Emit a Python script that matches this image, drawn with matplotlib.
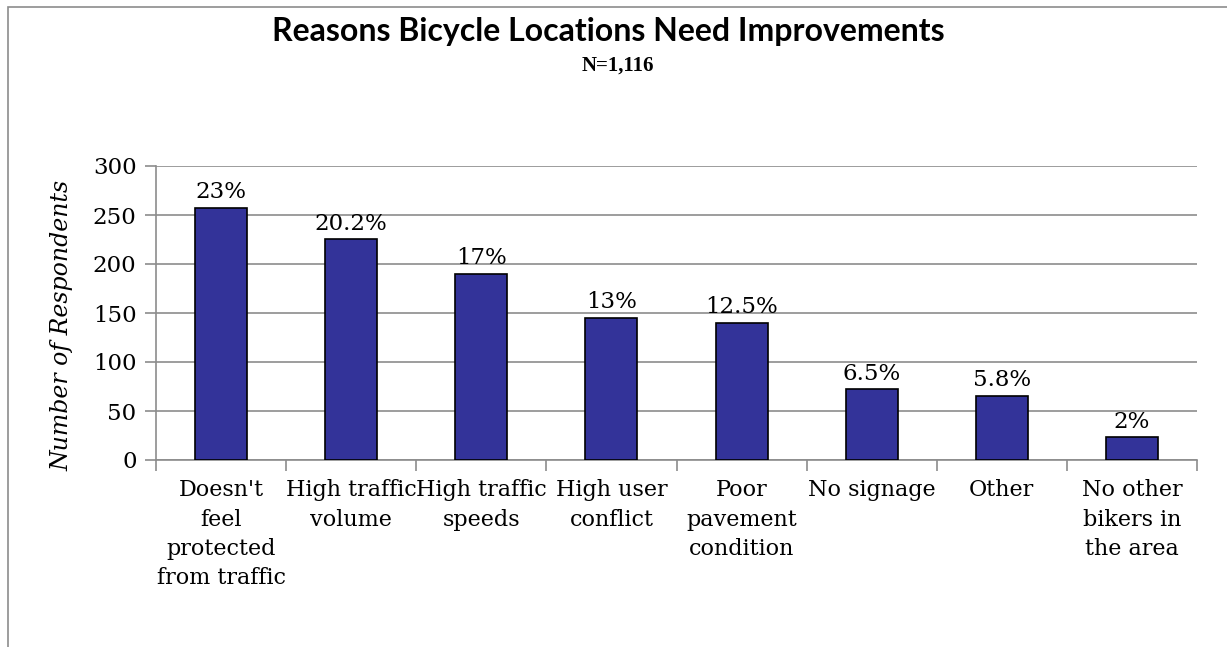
import matplotlib.pyplot as plt
from matplotlib.patches import Rectangle

categories = ["Doesn't\nfeel\nprotected\nfrom traffic", "High traffic\nvolume",
              "High traffic\nspeeds", "High user\nconflict", "Poor\npavement\ncondition",
              "No signage", "Other", "No other\nbikers in\nthe area"]
counts = [257, 225, 190, 145, 140, 72, 65, 23]
pct_labels = ["23%", "20.2%", "17%", "13%", "12.5%", "6.5%", "5.8%", "2%"]
yticks = [0, 50, 100, 150, 200, 250, 300]

serif = 'DejaVu Serif'
fig = plt.figure(figsize=(12.27, 6.47), dpi=100)
ax = fig.add_axes([156 / 1227, 1 - 460 / 647, (1197 - 156) / 1227, (460 - 166) / 647])

# chart border (only left/top visible in the original)
fig.patches.append(Rectangle((8 / 1227, -0.1), 1.2, 1 - 7 / 647 + 0.1, transform=fig.transFigure,
                             fill=False, edgecolor='#8c8c8c', linewidth=1.2))

x = list(range(len(categories)))
ax.bar(x, counts, width=0.4, color='#333399', edgecolor='black', linewidth=1.2, zorder=3)

for xi, c, lab in zip(x, counts, pct_labels):
    ax.text(xi, c + 5, lab, ha='center', va='bottom', fontsize=16.5, family=serif)

ax.set_xlim(-0.5, len(categories) - 0.5)
ax.set_ylim(0, 300)
ax.set_yticks(yticks)
ax.set_yticklabels([str(v) for v in yticks], fontsize=16.5, family=serif)
ax.yaxis.grid(True, color='#8c8c8c', linewidth=1.2, zorder=0)
ax.set_axisbelow(True)

ax.set_xticks([i + 0.5 for i in range(-1, len(categories))], minor=False)
ax.set_xticklabels([])
ax.set_xticks(x, minor=True)
ax.set_xticklabels(categories, minor=True, fontsize=16, family=serif, linespacing=1.42)
ax.tick_params(axis='x', which='minor', length=0, pad=14)
ax.tick_params(axis='x', which='major', length=8, color='#8c8c8c', width=1.2)
ax.tick_params(axis='y', length=8, color='#8c8c8c', width=1.2, pad=6)

for s in ['top', 'right']:
    ax.spines[s].set_visible(False)
for s in ['left', 'bottom']:
    ax.spines[s].set_color('#8c8c8c')
    ax.spines[s].set_linewidth(1.2)

fig.text(62 / 1227, 1 - 325 / 647, 'Number of Respondents', rotation=90, ha='center', va='center',
         fontsize=17, family=serif, style='italic')
fig.text(608 / 1227, 1 - 32 / 647, 'Reasons Bicycle Locations Need Improvements', ha='center',
         va='center', fontsize=23, family='Lato', weight='bold')
fig.text(618 / 1227, 1 - 66 / 647, 'N=1,116', ha='center', va='center', fontsize=15,
         family='Liberation Serif', weight='bold')

fig.savefig('out.png', dpi=100)
